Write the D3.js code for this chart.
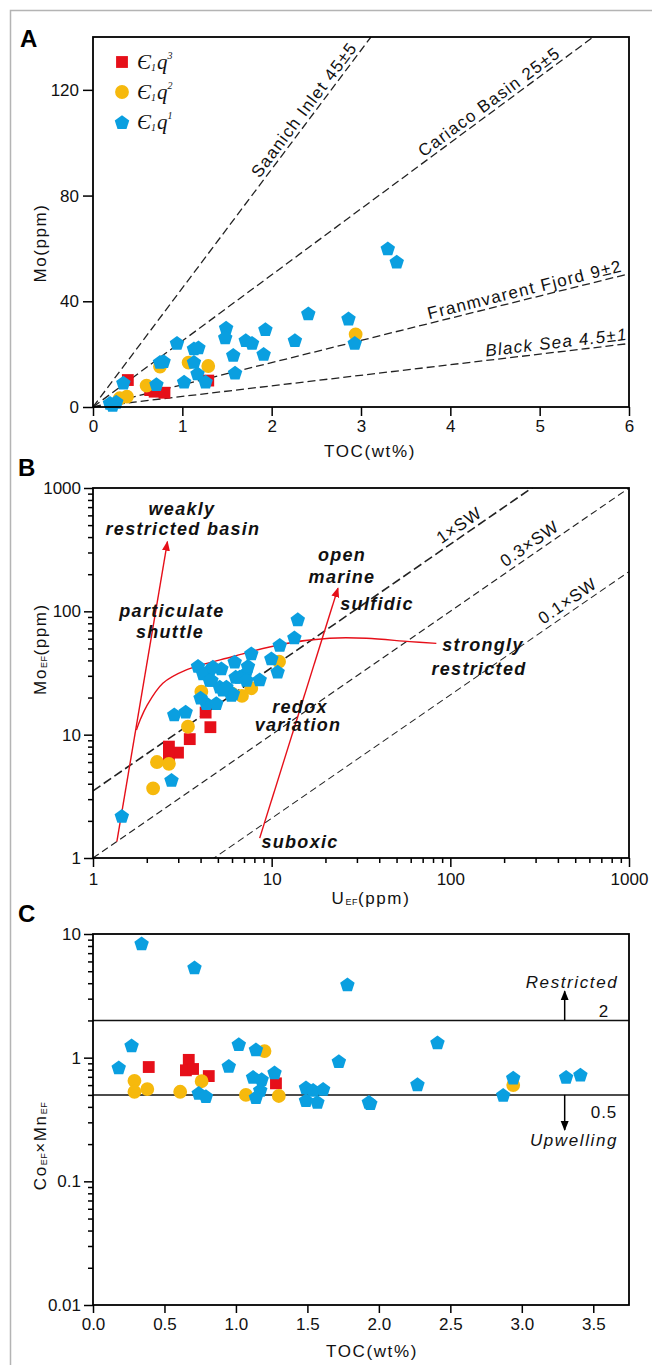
<!DOCTYPE html>
<html><head><meta charset="utf-8">
<script src="https://cdn.jsdelivr.net/npm/d3@7"></script>
<style>body{margin:0;background:#fff}svg{display:block}</style>
</head><body><svg id="c" width="652" height="1365"></svg>
<script>
// ---------------- DATA ----------------
// Panel A: TOC (wt%) vs Mo (ppm)
const aQ3TOC = [0.39, 0.64, 0.69, 0.80, 1.29];
const aQ3Mo  = [10.2, 6.4, 5.8, 5.4, 10.0];
const aQ2TOC = [0.30, 0.38, 0.60, 0.75, 1.07, 1.29, 2.94];
const aQ2Mo  = [3.3, 3.9, 8.1, 15.3, 16.8, 15.5, 27.5];
const aQ1TOC = [3.30, 3.40, 2.41, 2.86, 2.93, 1.93, 1.49, 1.48, 1.71, 1.78, 2.26, 1.57, 1.91, 1.59, 0.94, 1.13, 1.18, 1.13, 1.17, 1.26, 1.02, 0.75, 0.79, 0.71, 0.34, 0.19, 0.26, 0.22];
const aQ1Mo  = [60.0, 55.0, 35.4, 33.5, 24.3, 29.5, 30.0, 26.4, 25.3, 24.3, 25.3, 19.7, 20.1, 13.0, 24.3, 22.2, 22.6, 17.1, 12.7, 9.6, 9.6, 17.1, 17.4, 8.7, 9.2, 1.6, 2.0, 0.8];
const aRefNames  = ["Saanich Inlet 45±5", "Cariaco Basin 25±5", "Franmvarent Fjord 9±2", "Black Sea 4.5±1"];
const aRefSlopes = [45, 25, 8.4, 4.0];
const aRefLabelTOC = [2.45, 4.5, 4.86, 5.2];

// Panel B: U_EF vs Mo_EF
const bQ3U  = [2.66, 2.99, 2.66, 3.48, 4.54, 4.27];
const bQ3Mo = [8.0, 7.15, 6.6, 9.2, 11.5, 15.1];
const bQ2U  = [2.17, 2.28, 2.66, 3.40, 4.04, 6.82, 7.69, 11.0, 6.0];
const bQ2Mo = [3.67, 6.0, 5.8, 11.6, 22.3, 20.6, 23.8, 39.1, 21.5];
const bQ1U  = [1.45, 2.75, 2.85, 3.30, 3.87, 4.50, 4.31, 4.90, 4.60, 5.23, 5.12, 6.21, 6.29, 7.15, 7.37, 7.69, 5.95, 8.57, 9.96, 10.8, 11.1, 13.4, 14.0, 5.58, 4.13, 4.69, 6.07, 5.33, 6.62, 7.23, 4.50, 4.0];
const bQ1Mo = [2.2, 4.3, 14.6, 15.4, 36.1, 33.5, 18.0, 18.0, 27.8, 34.5, 24.5, 39.1, 29.5, 31.5, 36.1, 45.7, 21.0, 28.1, 41.6, 32.4, 53.4, 61.6, 86.3, 24.5, 31.5, 35.7, 21.6, 23.2, 29.5, 27.8, 27.8, 20.0];
const swNames  = ["1×SW", "0.3×SW", "0.1×SW"];
const swRatios = [3.5, 1.0, 0.21];
const swLabelU = [121, 300, 490];
const restrictedCurveU  = [1.75, 1.85, 1.99, 2.46, 3.33, 6.07, 11.6, 21.1, 33.9, 59.2, 83.5];
const restrictedCurveMo = [10.9, 13.5, 16.9, 26.1, 33.5, 43, 54.4, 60.5, 60.5, 56.8, 55];
const shuttleArrowU  = [1.36, 2.61];
const shuttleArrowMo = [1.36, 367];
const redoxArrowU  = [8.57, 23.5];
const redoxArrowMo = [1.45, 154];

// Panel C: TOC vs Co_EF x Mn_EF
const cQ3TOC = [0.39, 0.67, 0.65, 0.70, 0.81, 1.28];
const cQ3V   = [0.84, 0.96, 0.79, 0.81, 0.71, 0.62];
const cQ2TOC = [0.29, 0.29, 0.38, 0.61, 0.76, 1.07, 1.20, 1.30, 2.94];
const cQ2V   = [0.65, 0.53, 0.557, 0.53, 0.645, 0.50, 1.13, 0.49, 0.60];
const cQ1TOC = [0.34, 0.71, 0.27, 0.18, 1.02, 1.14, 0.95, 1.12, 1.18, 1.27, 1.17, 1.14, 0.74, 0.79, 1.49, 1.54, 1.61, 1.49, 1.57, 1.78, 1.72, 2.41, 2.27, 1.93, 1.94, 2.87, 2.94, 3.31, 3.41];
const cQ1V   = [8.4, 5.37, 1.26, 0.834, 1.29, 1.17, 0.86, 0.70, 0.67, 0.76, 0.55, 0.48, 0.52, 0.49, 0.575, 0.55, 0.56, 0.454, 0.44, 3.91, 0.94, 1.33, 0.61, 0.44, 0.43, 0.50, 0.69, 0.70, 0.73];
const cThresholds = [2, 0.5];

// ---------------- STYLE ----------------
const RED = "#e60f19", ORANGE = "#f6b90d", BLUE = "#0a9fe0";
const FONT = "Arial, 'Liberation Sans', Helvetica, sans-serif";
const svg = d3.select("#c");

svg.append("rect").attr("x", 10.5).attr("y", 10.5).attr("width", 700).attr("height", 1400)
  .attr("fill", "none").attr("stroke", "#b4b4b4").attr("stroke-width", 1.5);

const pentagon = {
  draw(ctx, size) {
    const r = Math.sqrt(size);
    for (let i = 0; i < 5; i++) {
      const a = -Math.PI / 2 + i * 2 * Math.PI / 5;
      const x = r * Math.cos(a), y = r * Math.sin(a) + r * 0.1;
      i ? ctx.lineTo(x, y) : ctx.moveTo(x, y);
    }
    ctx.closePath();
  }
};
const symSquare = d3.symbol().type(d3.symbolSquare).size(140)();
const symCircle = d3.symbol().type(d3.symbolCircle).size(150)();
const symPent = d3.symbol().type(pentagon).size(58)();

const defs = svg.append("defs");
function marker(id, color) {
  defs.append("marker").attr("id", id).attr("viewBox", "0 0 10 10").attr("refX", 9).attr("refY", 5)
    .attr("markerWidth", 10).attr("markerHeight", 10).attr("markerUnits", "userSpaceOnUse")
    .attr("orient", "auto").append("path").attr("d", "M0,1 L10,5 L0,9 Z").attr("fill", color);
}
marker("arrRed", RED); marker("arrBlk", "#000");

function styleAxis(g) {
  g.attr("font-size", 17).attr("font-family", FONT);
  g.select(".domain").remove();
  g.selectAll(".tick line").attr("stroke", "#000").attr("stroke-width", 1.5);
  g.selectAll(".tick text").attr("fill", "#111");
}
function box(x0, y0, x1, y1) {
  svg.append("rect").attr("x", x0).attr("y", y0).attr("width", x1 - x0).attr("height", y1 - y0)
    .attr("fill", "none").attr("stroke", "#000").attr("stroke-width", 1.8);
}
function scatter(g, xs, ys, xsc, ysc, sym, color) {
  g.selectAll(null).data(xs.map((x, i) => [x, ys[i]])).join("path")
    .attr("d", sym).attr("fill", color)
    .attr("transform", d => `translate(${xsc(d[0])},${ysc(d[1])})`);
}
function panelLetter(t, x, y) {
  svg.append("text").attr("x", x).attr("y", y).text(t).attr("font-family", FONT)
    .attr("font-size", 24).attr("font-weight", "bold").attr("fill", "#000");
}
function titleX(parts, x, y) {
  const t = svg.append("text").attr("x", x).attr("y", y).attr("text-anchor", "middle")
    .attr("font-family", FONT).attr("font-size", 17).attr("letter-spacing", 1.6).attr("fill", "#111");
  parts.forEach(p => t.append("tspan").text(p[0]).attr("font-size", p[1] ? 9 : 17).attr("dy", p[1] ? 1 : (p[2] || 0)).attr("letter-spacing", p[1] ? 0.5 : 1.6));
  return t;
}
function titleY(parts, x, y) {
  const t = svg.append("text").attr("transform", `translate(${x},${y}) rotate(-90)`).attr("text-anchor", "middle")
    .attr("font-family", FONT).attr("font-size", 17).attr("letter-spacing", 1.6).attr("fill", "#111");
  parts.forEach(p => t.append("tspan").text(p[0]).attr("font-size", p[1] ? 9 : 17).attr("dy", p[1] ? 1 : (p[2] || 0)).attr("letter-spacing", p[1] ? 0.5 : 1.6));
  return t;
}
function logMinors(lo, hi) {
  const out = [];
  for (let d = lo; d < hi; d *= 10) for (let m = 2; m <= 9; m++) out.push(m * d);
  return out;
}

// ---------------- PANEL A ----------------
const xA = d3.scaleLinear([0, 6], [93, 629]);
const yA = d3.scaleLinear([0, 140], [407, 37]);
svg.append("g").attr("transform", "translate(0,407)")
  .call(d3.axisBottom(xA).tickValues([0, 1, 2, 3, 4, 5, 6]).tickFormat(d3.format("d")).tickSize(9).tickPadding(4)).call(styleAxis);
svg.append("g").attr("transform", "translate(93,0)")
  .call(d3.axisLeft(yA).tickValues([0, 40, 80, 120]).tickSize(10).tickPadding(4)).call(styleAxis);

const gA = svg.append("g");
aRefSlopes.forEach((k, i) => {
  const xe = Math.min(6, 140 / k);
  gA.append("line").attr("x1", xA(0)).attr("y1", yA(0)).attr("x2", xA(xe)).attr("y2", yA(k * xe))
    .attr("stroke", "#222").attr("stroke-width", 1.3).attr("stroke-dasharray", "8,4");
  const ang = Math.atan2(yA(k) - yA(0), xA(1) - xA(0)) * 180 / Math.PI;
  const t = aRefLabelTOC[i];
  gA.append("text").attr("transform", `translate(${xA(t)},${yA(k * t)}) rotate(${ang})`)
    .attr("dy", -4).attr("text-anchor", "middle").attr("font-family", FONT).attr("font-size", 17)
    .attr("letter-spacing", 1.3).attr("font-style", i === 3 ? "italic" : "normal").attr("fill", "#111")
    .text(aRefNames[i]);
});
scatter(gA, aQ3TOC, aQ3Mo, xA, yA, symSquare, RED);
scatter(gA, aQ2TOC, aQ2Mo, xA, yA, symCircle, ORANGE);
scatter(gA, aQ1TOC, aQ1Mo, xA, yA, symPent, BLUE);
box(93, 37, 629, 407);

// legend
const legendItems = [["3", symSquare, RED], ["2", symCircle, ORANGE], ["1", symPent, BLUE]];
legendItems.forEach((it, i) => {
  const y = 62 + i * 30;
  svg.append("path").attr("d", it[1]).attr("fill", it[2]).attr("transform", `translate(122,${y})`);
  const t = svg.append("text").attr("x", 137).attr("y", y + 7).attr("font-family", "'Liberation Serif', 'Times New Roman', serif")
    .attr("font-style", "italic").attr("font-size", 21).attr("fill", "#111");
  t.append("tspan").text("Є");
  t.append("tspan").text("1").attr("font-size", 10).attr("dy", 2);
  t.append("tspan").text("q").attr("dy", -2).attr("dx", 1);
  t.append("tspan").text(it[0]).attr("font-size", 10).attr("dy", -10);
});
panelLetter("A", 20, 47);
titleY([["Mo(ppm)"]], 46, 243);
titleX([["TOC(wt%)"]], 370, 457);

// ---------------- PANEL B ----------------
const xB = d3.scaleLog([1, 1000], [93, 629]);
const yB = d3.scaleLog([1, 1000], [858, 488]);
const bMajor = [1, 10, 100, 1000];
svg.append("g").attr("transform", "translate(0,858)")
  .call(d3.axisBottom(xB).tickValues(bMajor).tickFormat(d3.format("d")).tickSize(9).tickPadding(6)).call(styleAxis);
svg.append("g").attr("transform", "translate(0,858)")
  .call(d3.axisBottom(xB).tickValues(logMinors(1, 1000)).tickFormat("").tickSize(5)).call(styleAxis);
svg.append("g").attr("transform", "translate(93,0)")
  .call(d3.axisLeft(yB).tickValues(bMajor).tickFormat(d3.format("d")).tickSize(9).tickPadding(3)).call(styleAxis);
svg.append("g").attr("transform", "translate(93,0)")
  .call(d3.axisLeft(yB).tickValues(logMinors(1, 1000)).tickFormat("").tickSize(5)).call(styleAxis);

const gB = svg.append("g");
const clipB = defs.append("clipPath").attr("id", "clipB");
clipB.append("rect").attr("x", 93).attr("y", 488).attr("width", 536).attr("height", 370);
const gBl = gB.append("g").attr("clip-path", "url(#clipB)");
swRatios.forEach((r, i) => {
  gBl.append("line").attr("x1", xB(1)).attr("y1", yB(r)).attr("x2", xB(1000)).attr("y2", yB(r * 1000))
    .attr("stroke", "#222").attr("stroke-width", i === 0 ? 1.6 : 1.1).attr("stroke-dasharray", i === 0 ? "9,4" : "7,4");
  const ang = Math.atan2(yB(10) - yB(1), xB(10) - xB(1)) * 180 / Math.PI;
  const u = swLabelU[i];
  gB.append("text").attr("transform", `translate(${xB(u)},${yB(r * u)}) rotate(${ang})`)
    .attr("dy", -5).attr("text-anchor", "middle").attr("font-family", FONT).attr("font-size", 17)
    .attr("letter-spacing", 1).attr("fill", "#111").text(swNames[i]);
});
// red curves
gB.append("line").attr("x1", xB(shuttleArrowU[0])).attr("y1", yB(shuttleArrowMo[0]))
  .attr("x2", xB(shuttleArrowU[1])).attr("y2", yB(shuttleArrowMo[1]))
  .attr("stroke", RED).attr("stroke-width", 1.4).attr("marker-end", "url(#arrRed)");
gB.append("line").attr("x1", xB(redoxArrowU[0])).attr("y1", yB(redoxArrowMo[0]))
  .attr("x2", xB(redoxArrowU[1])).attr("y2", yB(redoxArrowMo[1]))
  .attr("stroke", RED).attr("stroke-width", 1.4).attr("marker-end", "url(#arrRed)");
gB.append("path").datum(restrictedCurveU.map((u, i) => [u, restrictedCurveMo[i]]))
  .attr("d", d3.line().x(d => xB(d[0])).y(d => yB(d[1])).curve(d3.curveCatmullRom.alpha(0.5)))
  .attr("fill", "none").attr("stroke", RED).attr("stroke-width", 1.4);

scatter(gB, bQ3U, bQ3Mo, xB, yB, symSquare, RED);
scatter(gB, bQ2U, bQ2Mo, xB, yB, symCircle, ORANGE);
scatter(gB, bQ1U, bQ1Mo, xB, yB, symPent, BLUE);

const bLabels = [
  ["weakly", 182, 515], ["restricted basin", 183, 535], ["particulate", 172, 617], ["shuttle", 170, 638],
  ["open", 342, 561], ["marine", 342, 583], ["sulfidic", 377, 610], ["strongly", 483, 651],
  ["restricted", 479, 675], ["redox", 300, 713], ["variation", 298, 731], ["suboxic", 300, 848]
];
bLabels.forEach(l => {
  gB.append("text").attr("x", l[1]).attr("y", l[2]).attr("text-anchor", "middle").attr("font-family", FONT)
    .attr("font-size", 18).attr("font-weight", "bold").attr("font-style", "italic").attr("letter-spacing", 1.3)
    .attr("fill", "#111").text(l[0]);
});
box(93, 488, 629, 858);
panelLetter("B", 18, 476);
titleY([["Mo"], ["EF", true], ["(ppm)", false, -1]], 46, 649);
titleX([["U"], ["EF", true], ["(ppm)", false, -1]], 371, 904);

// ---------------- PANEL C ----------------
const xC = d3.scaleLinear([0, 3.75], [93, 629]);
const yC = d3.scaleLog([0.01, 10], [1305, 934]);
svg.append("g").attr("transform", "translate(0,1305)")
  .call(d3.axisBottom(xC).tickValues(d3.range(0, 3.51, 0.5)).tickFormat(d3.format(".1f")).tickSize(8).tickPadding(5)).call(styleAxis);
svg.append("g").attr("transform", "translate(93,0)")
  .call(d3.axisLeft(yC).tickValues([0.01, 0.1, 1, 10]).tickFormat(d => String(d)).tickSize(9).tickPadding(3)).call(styleAxis);
svg.append("g").attr("transform", "translate(93,0)")
  .call(d3.axisLeft(yC).tickValues(logMinors(0.01, 10)).tickFormat("").tickSize(5)).call(styleAxis);

const gC = svg.append("g");
cThresholds.forEach(v => {
  gC.append("line").attr("x1", xC(0)).attr("x2", xC(3.75)).attr("y1", yC(v)).attr("y2", yC(v))
    .attr("stroke", "#111").attr("stroke-width", 1.5);
});
scatter(gC, cQ3TOC, cQ3V, xC, yC, symSquare, RED);
scatter(gC, cQ2TOC, cQ2V, xC, yC, symCircle, ORANGE);
scatter(gC, cQ1TOC, cQ1V, xC, yC, symPent, BLUE);

gC.append("line").attr("x1", xC(3.3)).attr("x2", xC(3.3)).attr("y1", yC(2)).attr("y2", yC(3.45))
  .attr("stroke", "#000").attr("stroke-width", 1.5).attr("marker-end", "url(#arrBlk)");
gC.append("line").attr("x1", xC(3.3)).attr("x2", xC(3.3)).attr("y1", yC(0.5)).attr("y2", yC(0.26))
  .attr("stroke", "#000").attr("stroke-width", 1.5).attr("marker-end", "url(#arrBlk)");
const cAnn = [["Restricted", 572, 988, true], ["Upwelling", 574, 1146, true], ["2", 604, 1017, false], ["0.5", 604, 1118, false]];
cAnn.forEach(a => {
  gC.append("text").attr("x", a[1]).attr("y", a[2]).attr("text-anchor", "middle").attr("font-family", FONT)
    .attr("font-size", 17).attr("font-style", a[3] ? "italic" : "normal").attr("letter-spacing", a[3] ? 1.6 : 1)
    .attr("fill", "#111").text(a[0]);
});
box(93, 934, 629, 1305);
panelLetter("C", 18, 922);
titleY([["Co"], ["EF", true], ["×Mn", false, -1], ["EF", true]], 46, 1146);
titleX([["TOC(wt%)"]], 372, 1357);
</script>
</body></html>
